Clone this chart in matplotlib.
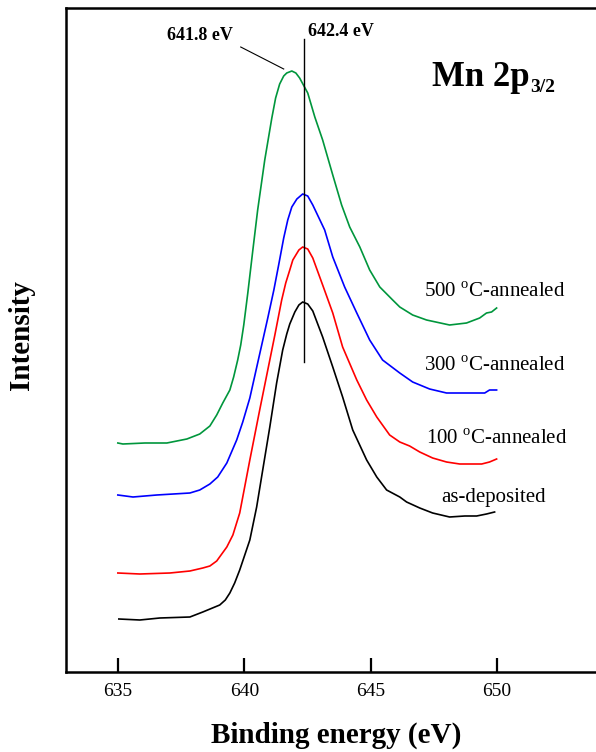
import matplotlib
matplotlib.use("Agg")
import matplotlib.pyplot as plt

plt.rcParams['font.family'] = ['Liberation Serif', 'DejaVu Serif']
plt.rcParams['mathtext.fontset'] = 'custom'
plt.rcParams['mathtext.rm'] = 'Liberation Serif'

# Mn 2p3/2 XPS spectra (arbitrary intensity units, already offset)
e_asdep = [635.04, 635.87, 636.66, 637.85, 638.36, 639.03, 639.25, 639.43, 639.62, 639.82,
           640.22, 640.49, 640.73, 641.01, 641.28, 641.52, 641.68, 641.80, 642.00, 642.16,
           642.31, 642.51, 642.71, 643.10, 643.50, 643.89, 644.29, 644.84, 645.24, 645.63,
           646.15, 646.42, 646.94, 647.45, 648.12, 648.72, 649.19, 649.58, 649.90]
i_asdep = [53, 52, 54, 55, 60, 67, 72, 79, 89, 102,
           132, 165, 202, 245, 289, 322, 338, 348, 360, 367,
           370, 368, 361, 335, 305, 275, 242, 212, 195, 182,
           175, 170, 164, 159, 155, 156, 156, 158, 160]

e_100 = [635.0, 635.87, 637.06, 637.85, 638.36, 638.64, 638.91, 639.31, 639.55, 639.82,
         640.22, 640.61, 640.81, 641.01, 641.21, 641.48, 641.64, 641.80, 641.92, 642.16,
         642.31, 642.51, 642.71, 643.10, 643.50, 643.89, 644.45, 644.84, 645.24, 645.75,
         646.15, 646.54, 646.94, 647.45, 648.00, 648.52, 649.39, 649.70, 649.98]
i_100 = [99, 98, 99, 101, 104, 106, 111, 125, 137, 159,
         212, 262, 287, 312, 337, 372, 389, 402, 412, 422,
         425, 423, 414, 387, 359, 325, 292, 272, 255, 237,
         230, 226, 220, 214, 210, 208, 208, 210, 213]

e_300 = [635.0, 635.6, 636.54, 637.85, 638.24, 638.64, 638.95, 639.31, 639.70, 639.94,
         640.22, 640.45, 640.69, 640.93, 641.17, 641.36, 641.56, 641.72, 641.88, 642.08,
         642.31, 642.51, 642.71, 643.18, 643.50, 643.97, 644.45, 644.96, 645.47, 646.15,
         646.66, 647.33, 648.00, 648.91, 649.51, 649.70, 649.98]
i_300 = [177, 175, 177, 179, 182, 188, 195, 209, 232, 250,
         274, 300, 327, 354, 382, 407, 434, 452, 465, 473,
         478, 476, 467, 442, 415, 385, 359, 332, 312, 299,
         290, 283, 279, 279, 279, 282, 282]

e_500 = [635.0, 635.2, 636.07, 636.94, 637.73, 638.24, 638.64, 638.91, 639.15, 639.43,
         639.58, 639.74, 639.86, 639.98, 640.14, 640.34, 640.53, 640.81, 641.09, 641.24,
         641.40, 641.56, 641.68, 641.88, 642.04, 642.19, 642.51, 642.79, 643.10, 643.50,
         643.85, 644.17, 644.57, 644.96, 645.36, 645.87, 646.15, 646.66, 647.21, 648.12,
         648.79, 649.31, 649.58, 649.78, 649.98]
i_500 = [229, 228, 229, 229, 233, 238, 246, 257, 269, 282,
         295, 312, 327, 347, 379, 422, 462, 512, 554, 574,
         588, 596, 599, 601, 599, 594, 579, 555, 532, 497,
         467, 445, 425, 402, 385, 372, 365, 357, 352, 347,
         349, 354, 359, 360, 364]

labels = ['as-deposited', '100 $^{\\mathrm{o}}$C-annealed',
          '300 $^{\\mathrm{o}}$C-annealed', '500 $^{\\mathrm{o}}$C-annealed']
label_pos = [(647.81, 170), (647.17, 228), (647.09, 301), (647.09, 375)]
colors = ['black', '#ff0000', '#0000ff', '#00963c']

fig = plt.figure(figsize=(5.96, 7.52), dpi=100)
ax = fig.add_axes([66 / 596, 80 / 752, 531 / 596, 664 / 752])

for e, i, c in zip([e_asdep, e_100, e_300, e_500], [i_asdep, i_100, i_300, i_500], colors):
    ax.plot(e, i, color=c, lw=1.2)

for (x, y), t in zip(label_pos, labels):
    ax.text(x, y, t, fontsize=15, ha='left', va='baseline')

# peak markers
ax.plot([642.35, 642.35], [310, 633], color='black', lw=1.0)
ax.plot([639.86, 641.56], [625, 603], color='black', lw=0.8)
ax.text(638.24, 637, '641.8 eV', fontsize=13, fontweight='bold', ha='center', va='center')
ax.text(642.51, 640, '642.4 eV', fontsize=13, fontweight='bold', ha='left', va='center')

ax.text(651.28, 586, 'Mn 2p', fontsize=25, fontweight='bold', ha='right', va='baseline')
ax.text(651.32, 580, '3/2', fontsize=14, fontweight='bold', ha='left', va='baseline')

ax.set_xlim(632.95, 653.95)
ax.set_ylim(0, 664)
ax.set_xticks([635, 640, 645, 650])
ax.set_yticks([])
ax.tick_params(axis='x', direction='in', length=10, width=1.6, labelsize=14, pad=8)
for s in ax.spines.values():
    s.set_linewidth(1.8)

fig.text(336 / 596, 1 - 735 / 752, 'Binding energy (eV)', fontsize=21, fontweight='bold',
         ha='center', va='center')
fig.text(22 / 596, 1 - 335 / 752, 'Intensity', fontsize=21, fontweight='bold',
         rotation=90, ha='center', va='center')

fig.savefig('out.png', dpi=100)
